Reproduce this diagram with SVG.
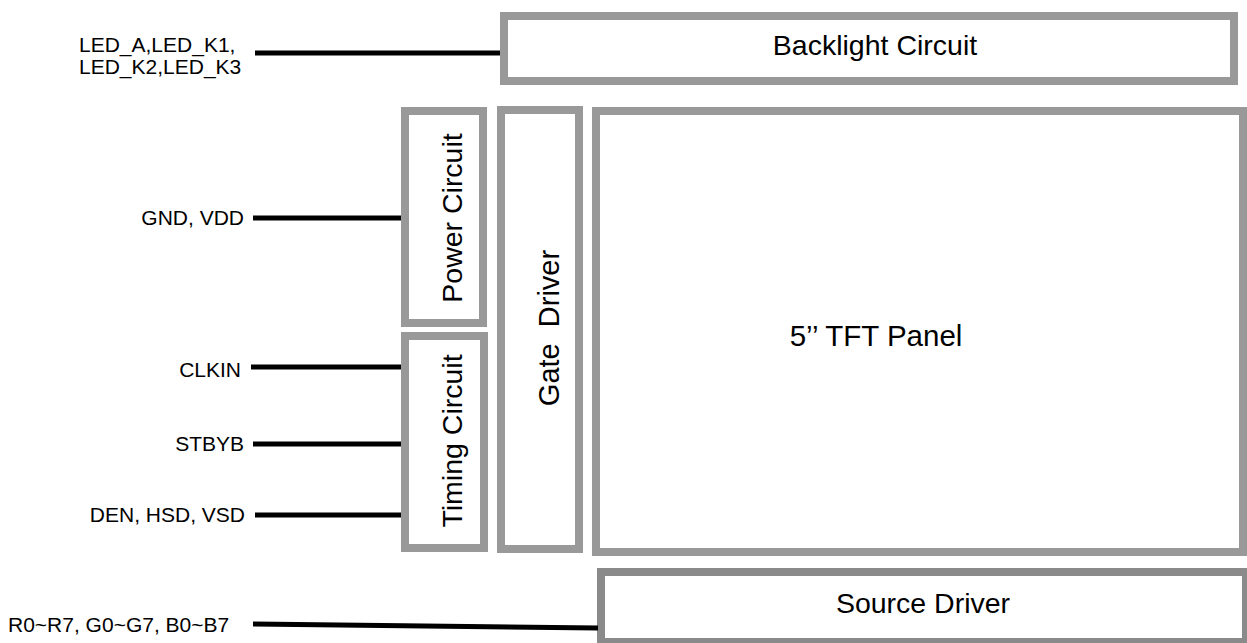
<svg xmlns="http://www.w3.org/2000/svg" width="1247" height="643" viewBox="0 0 1247 643">
<style>
.box{fill:#fff;stroke:#999;stroke-width:8}
.src{fill:#fff;stroke:#8a8a8a;stroke-width:8}
.t{font-family:"Liberation Sans",Arial,sans-serif;fill:#000}
.big{font-size:28.5px}
.sm{font-size:21px}
.w{stroke:#000;stroke-width:5;fill:none}
</style>
<rect width="1247" height="643" fill="#fff"/>
<g id="backlight">
<rect class="box" x="504" y="16" width="730" height="65"/>
<text class="t big" x="875" y="55" text-anchor="middle">Backlight Circuit</text>
</g>
<g id="power">
<rect class="box" x="405" y="111" width="78" height="212"/>
<text class="t big" transform="translate(462,218) rotate(-90)" text-anchor="middle">Power Circuit</text>
</g>
<g id="timing">
<rect class="box" x="405" y="336" width="79" height="212"/>
<text class="t big" transform="translate(462,441) rotate(-90)" text-anchor="middle">Timing Circuit</text>
</g>
<g id="gate">
<rect class="box" x="501" y="110" width="78" height="439"/>
<text class="t big" transform="translate(559,328) rotate(-90)" text-anchor="middle" xml:space="preserve" style="font-size:29px">Gate  Driver</text>
</g>
<g id="tft">
<rect class="box" x="596" y="111" width="647" height="441"/>
<text class="t big" x="876" y="346" text-anchor="middle" style="font-size:29.5px">5’’ TFT Panel</text>
</g>
<g id="source">
<rect class="src" x="601" y="572" width="645" height="70"/>
<text class="t big" x="923" y="613" text-anchor="middle">Source Driver</text>
</g>
<g id="labels">
<text class="t sm" x="79" y="52">LED_A,LED_K1,</text>
<text class="t sm" x="79" y="74">LED_K2,LED_K3</text>
<text class="t sm" x="244" y="225" text-anchor="end">GND, VDD</text>
<text class="t sm" x="241" y="377" text-anchor="end">CLKIN</text>
<text class="t sm" x="244" y="451" text-anchor="end">STBYB</text>
<text class="t sm" x="245" y="522" text-anchor="end">DEN, HSD, VSD</text>
<text class="t sm" x="8" y="632">R0~R7, G0~G7, B0~B7</text>
</g>
<g id="connectors">
<line class="w" x1="255" y1="53" x2="500" y2="53"/>
<line class="w" x1="253" y1="218" x2="401" y2="218"/>
<line class="w" x1="251" y1="367" x2="401" y2="367"/>
<line class="w" x1="253" y1="444" x2="401" y2="444"/>
<line class="w" x1="255" y1="515" x2="401" y2="515"/>
<line class="w" x1="253" y1="624" x2="598" y2="628"/>
</g>
</svg>
